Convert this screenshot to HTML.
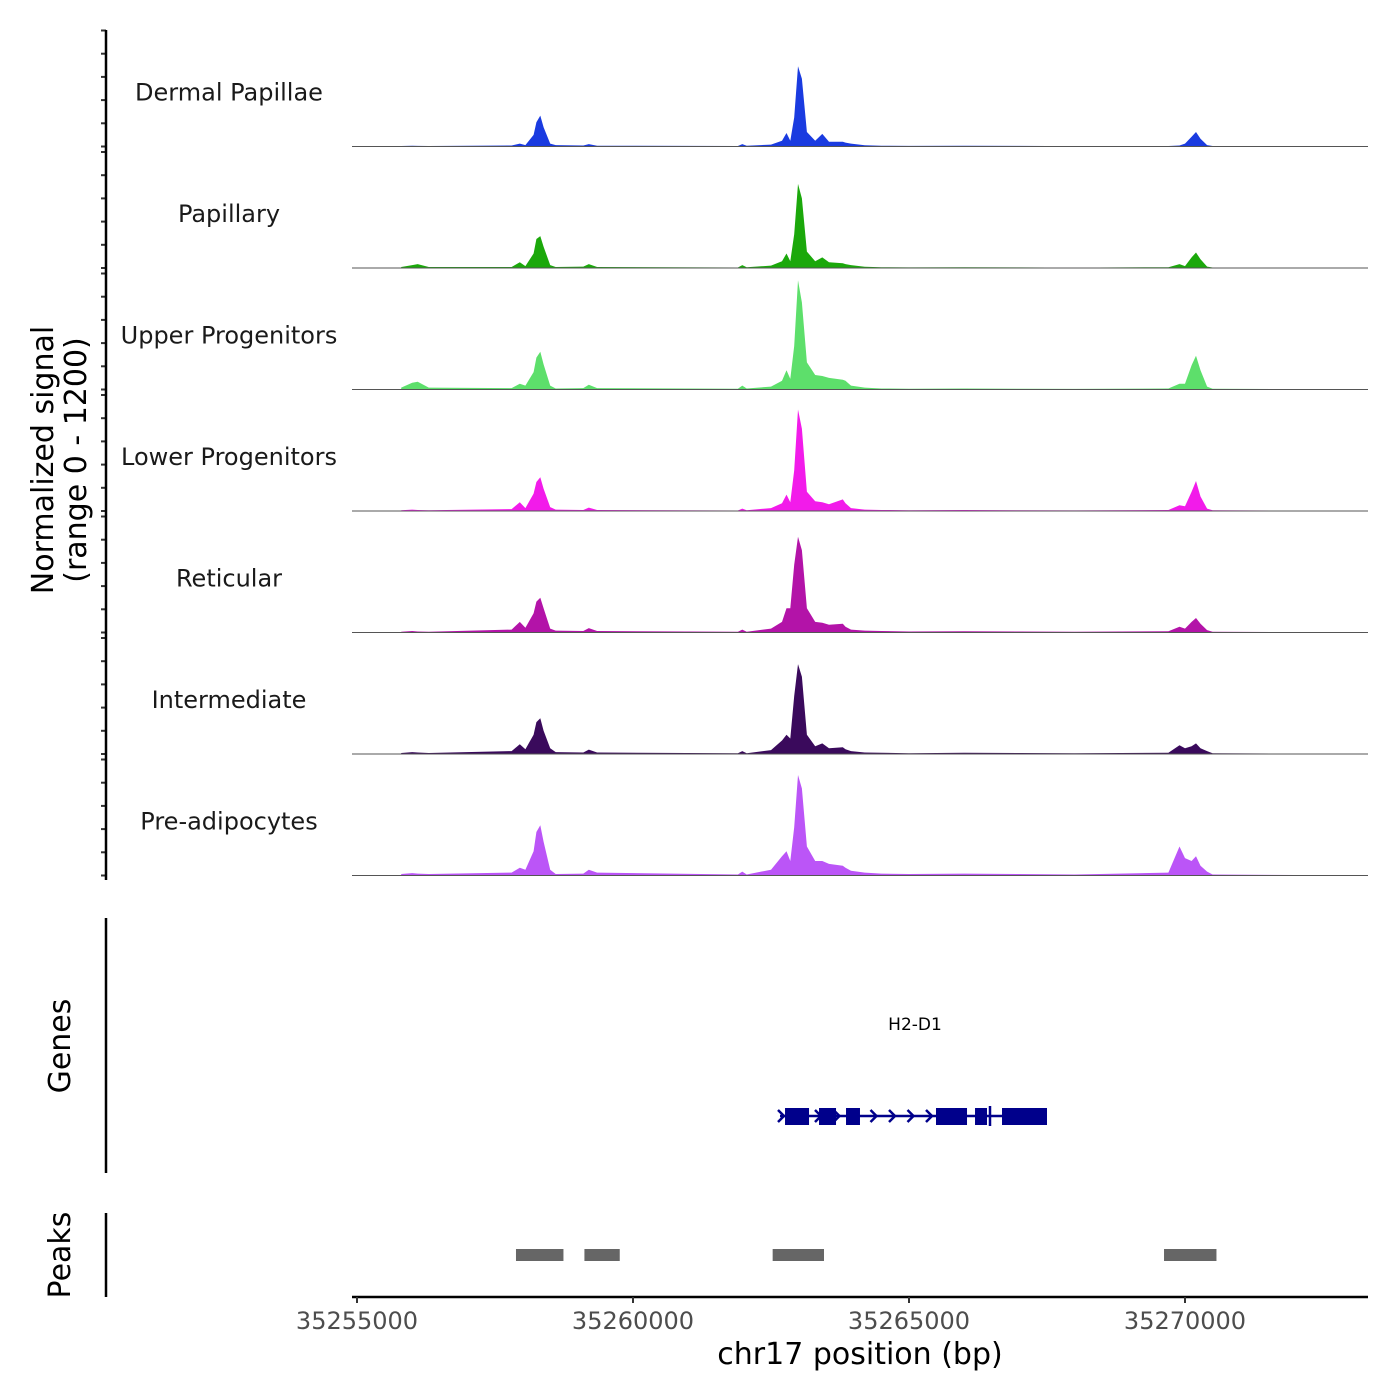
<!DOCTYPE html>
<html><head><meta charset="utf-8"><style>
body{margin:0;background:#fff}
svg{display:block;font-family:"DejaVu Sans","Liberation Sans",sans-serif}
</style></head><body>
<svg id="chart" width="1400" height="1400" viewBox="0 0 1400 1400" xmlns="http://www.w3.org/2000/svg"></svg>
<script>
const trackNames = ["Dermal Papillae","Papillary","Upper Progenitors","Lower Progenitors","Reticular","Intermediate","Pre-adipocytes"];
const trackColors = ["#1a3be0","#1ba80b","#5ddf6b","#f21bea","#b313a8","#3a0a5c","#bb55f7"];
const positions = [35255800,35256000,35256100,35256300,35257800,35257950,35258050,35258200,35258250,35258320,35258380,35258500,35258600,35259100,35259200,35259350,35261900,35261980,35262060,35262500,35262700,35262780,35262850,35262920,35262990,35263060,35263150,35263300,35263430,35263550,35263800,35263850,35263950,35264200,35264500,35265000,35266000,35267000,35268000,35269700,35269900,35270000,35270120,35270200,35270280,35270400,35270500,35272000];
const dermal = [5,8,6,5,10,30,15,120,250,320,200,30,15,10,25,8,5,25,8,20,60,140,60,300,830,700,150,60,130,50,50,40,30,12,8,6,8,6,4,5,10,30,100,150,80,15,5,3];
const papillary = [10,30,40,10,10,60,20,150,300,330,220,30,10,15,40,10,5,30,8,25,70,150,70,350,870,720,170,70,110,60,50,40,30,12,8,6,8,6,4,8,40,20,110,160,90,15,5,3];
const upper = [20,70,80,20,15,60,40,180,330,390,260,40,10,15,50,15,8,40,10,30,90,200,110,450,1130,900,280,150,140,120,100,90,40,20,10,8,10,8,6,10,60,60,250,350,200,30,8,4];
const lower = [8,15,10,8,20,90,30,180,300,350,230,40,15,10,35,10,5,25,8,30,80,170,90,420,1050,850,200,100,90,70,120,80,30,15,10,8,10,8,6,10,60,50,200,310,150,25,8,4];
const reticular = [8,15,10,8,30,110,50,200,320,360,250,40,20,15,45,15,8,30,8,40,110,250,250,700,990,850,250,110,100,80,90,60,30,20,15,10,12,10,8,12,60,40,110,150,90,25,8,4];
const intermediate = [10,20,15,10,30,100,50,200,330,370,240,60,20,15,45,15,8,30,8,40,140,200,160,600,930,800,200,80,110,60,70,50,30,15,12,8,12,10,8,12,90,60,80,110,60,30,8,4];
const preadipo = [15,25,20,15,30,80,60,250,450,520,350,60,15,20,60,30,10,40,10,60,200,250,150,500,1040,900,300,150,150,120,100,80,50,30,20,15,20,15,10,30,300,180,150,200,100,40,10,5];
const series = [dermal,papillary,upper,lower,reticular,intermediate,preadipo];
const xTicks = [35255000,35260000,35265000,35270000];
const peakStarts = [35257880,35259120,35262530,35269620];
const peakEnds = [35258740,35259760,35263460,35270570];
const exonStarts = [35262754,35263370,35263859,35265489,35266196,35266685];
const exonEnds = [35263189,35263678,35264112,35266051,35266413,35267500];
const geneStart = 35262663, geneEnd = 35267500;

const NS="http://www.w3.org/2000/svg";
const svg=document.getElementById('chart');
function mk(tag,attrs,parent){const e=document.createElementNS(NS,tag);for(const k in attrs)e.setAttribute(k,attrs[k]);(parent||svg).appendChild(e);return e;}
const xScale = bp => 357 + (bp-35255000)*276/5000;
const trackTop = 30, trackH = 121.5, yMax = 1200, plotH = 116;
const yScale = (v,i) => trackTop + (i+1)*trackH - 5 - (v/yMax)*plotH;

series.forEach((vals,i)=>{
  const base = yScale(0,i);
  const g=mk('g',{});
  
  
  let d='M'+xScale(positions[0])+','+base;
  positions.forEach((p,j)=>{d+=' L'+xScale(p).toFixed(1)+','+yScale(vals[j],i).toFixed(1);});
  d+=' L'+xScale(positions[positions.length-1])+','+base+' Z';
  const a=mk('path',{d:d,fill:trackColors[i]},g);
  
  
  const bl=mk('line',{x1:352,x2:1368,y1:base,y2:base,stroke:'#555','stroke-width':1},g);
  
  
  const t=mk('text',{x:229,y:base-46,'text-anchor':'middle','font-size':24,fill:'#1a1a1a'},g);
  t.textContent=trackNames[i];
  
  
  for(let k=0;k<=5;k++){
    const y=yScale(k*240,i);
    const tk=mk('line',{x1:101,x2:106,y1:y,y2:y,stroke:'#333','stroke-width':2});
    
    
  }
});
mk('line',{x1:106,x2:106,y1:30,y2:880,stroke:'#000','stroke-width':2.5,});
const yt=mk('text',{transform:'translate(53,460) rotate(-90)','text-anchor':'middle','font-size':30,fill:'#000',});
yt.innerHTML='<tspan x="0" dy="0">Normalized signal</tspan><tspan x="0" dy="33">(range 0 - 1200)</tspan>';

mk('line',{x1:106,x2:106,y1:918,y2:1173,stroke:'#000','stroke-width':2.5,});
const gt=mk('text',{transform:'translate(70,1046) rotate(-90)','text-anchor':'middle','font-size':30,fill:'#000',});gt.textContent='Genes';
const gg=mk('g',{});
mk('line',{x1:xScale(geneStart),x2:xScale(geneEnd),y1:1116,y2:1116,stroke:'#00008b','stroke-width':2.5},gg);
for(let k=0;k<9;k++){const x=xScale(geneStart)+k*18.5;mk('path',{d:`M${x-2},1110 L${x+4},1116 L${x-2},1122`,fill:'none',stroke:'#00008b','stroke-width':2.5},gg);}
exonStarts.forEach((s,j)=>{
  const r=mk('rect',{x:xScale(s),y:1108,width:xScale(exonEnds[j])-xScale(s),height:17,fill:'#00008b'},gg);
  
  
});
mk('line',{x1:990,x2:990,y1:1106,y2:1126,stroke:'#00008b','stroke-width':2.5},gg);
const gl=mk('text',{x:915,y:1030,'text-anchor':'middle','font-size':17,fill:'#000',},gg);gl.textContent='H2-D1';

mk('line',{x1:106,x2:106,y1:1213,y2:1297,stroke:'#000','stroke-width':2.5,});
const pt=mk('text',{transform:'translate(70,1255) rotate(-90)','text-anchor':'middle','font-size':30,fill:'#000',});pt.textContent='Peaks';
peakStarts.forEach((s,j)=>{
  const r=mk('rect',{x:xScale(s),y:1249,width:xScale(peakEnds[j])-xScale(s),height:12,fill:'#666'});
  
  
});

mk('line',{x1:352,x2:1368,y1:1297,y2:1297,stroke:'#000','stroke-width':2.5,});
xTicks.forEach(v=>{
  const x=xScale(v);
  const tk=mk('line',{x1:x,x2:x,y1:1297,y2:1303,stroke:'#333','stroke-width':2});
  
  
  const t=mk('text',{x:x,y:1329,'text-anchor':'middle','font-size':24,fill:'#4d4d4d'});
  t.textContent=v;
  
  
});
const xt=mk('text',{x:860,y:1364,'text-anchor':'middle','font-size':30,fill:'#000',});xt.textContent='chr17 position (bp)';
</script>
</body></html>
